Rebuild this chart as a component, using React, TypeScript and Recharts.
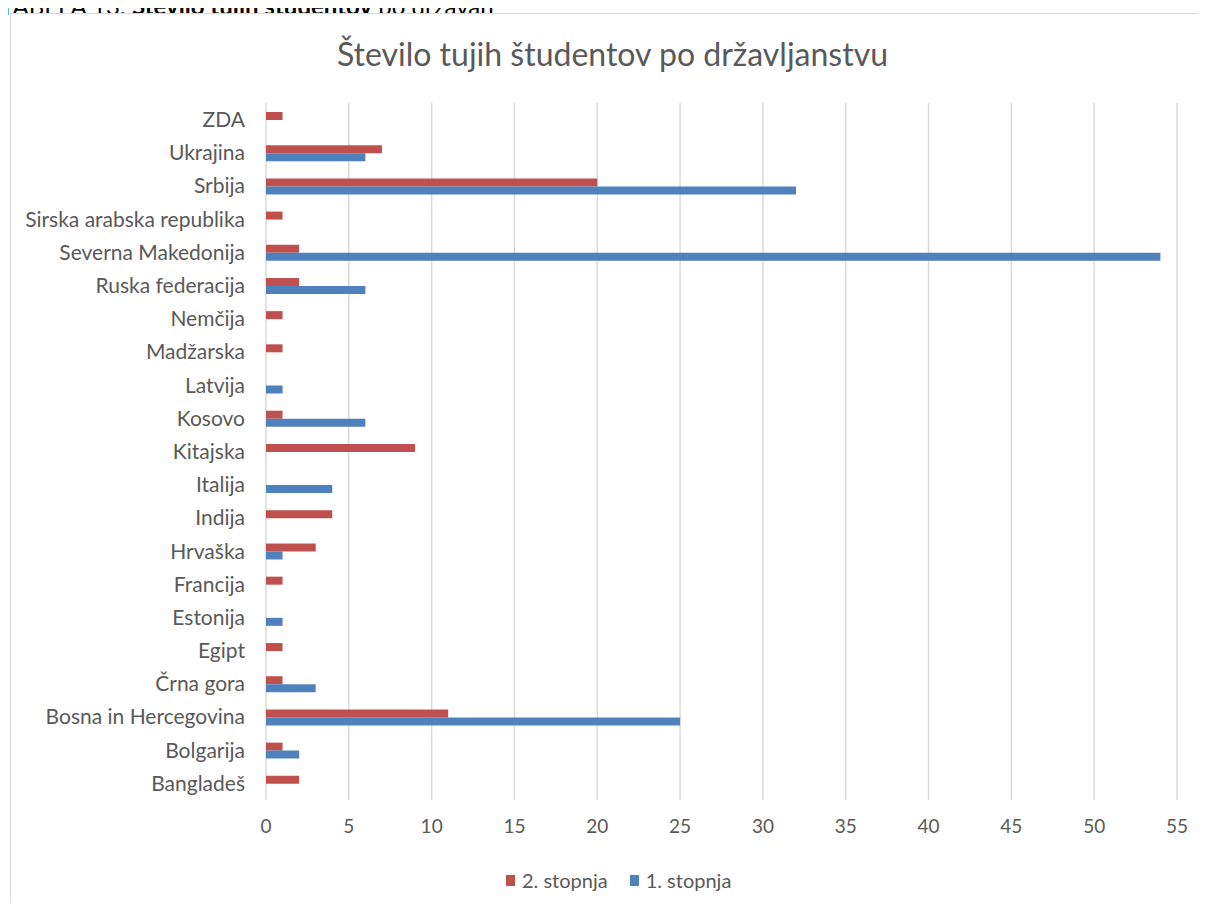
import React from 'react';
import { BarChart, Bar, XAxis, YAxis, CartesianGrid, Legend } from 'recharts';

const countries = [
  'ZDA', 'Ukrajina', 'Srbija', 'Sirska arabska republika', 'Severna Makedonija',
  'Ruska federacija', 'Nemčija', 'Madžarska', 'Latvija ', 'Kosovo', 'Kitajska',
  'Italija', 'Indija', 'Hrvaška', 'Francija', 'Estonija', 'Egipt', 'Črna gora',
  'Bosna in Hercegovina', 'Bolgarija', 'Bangladeš',
];
const secondCycle = [1, 7, 20, 1, 2, 2, 1, 1, null, 1, 9, null, 4, 3, 1, null, 1, 1, 11, 1, 2];
const firstCycle = [null, 6, 32, null, 54, 6, null, null, 1, 6, null, 4, null, 1, null, 1, null, 3, 25, 2, null];
const xTicks = [0, 5, 10, 15, 20, 25, 30, 35, 40, 45, 50, 55];

const RED = '#C0504D';
const BLUE = '#4F81BD';
const TEXT = '#595959';
const FONT = 'Lato, "Open Sans", sans-serif';

const data = countries.map((name, i) => ({
  name,
  second: secondCycle[i],
  first: firstCycle[i],
}));

const LegendContent = () => (
  <div style={{ display: 'flex', justifyContent: 'flex-start', paddingLeft: 496, fontFamily: FONT, fontSize: 20, color: TEXT }}>
    <span style={{ display: 'flex', alignItems: 'center', marginRight: 22 }}>
      <span style={{ width: 9, height: 11, background: RED, marginRight: 7, display: 'inline-block' }} />
      2. stopnja
    </span>
    <span style={{ display: 'flex', alignItems: 'center' }}>
      <span style={{ width: 9, height: 11, background: BLUE, marginRight: 7, display: 'inline-block' }} />
      1. stopnja
    </span>
  </div>
);

const App: React.FC = () => {
  return (
    <div style={{ position: 'relative', width: 1205, height: 911, margin: -8, overflow: 'hidden', background: '#fff', fontFamily: FONT }}>
      <div style={{ position: 'absolute', left: 0, top: -8, fontSize: 24, lineHeight: '28px', color: '#000', whiteSpace: 'nowrap' }}>
        TABELA 13: <b>Število tujih študentov</b> po državah
      </div>
      <div style={{ position: 'absolute', left: 10, top: 13, width: 1200, height: 910, border: '1px solid #d9d9d9', background: '#fff' }} />
      <div style={{ position: 'absolute', left: 0, top: 34, width: 1225, textAlign: 'center', fontSize: 32, color: TEXT }}>
        Število tujih študentov po državljanstvu
      </div>
      <div style={{ position: 'absolute', left: 10, top: 13 }}>
        <BarChart
          width={1195}
          height={898}
          data={data}
          layout="vertical"
          margin={{ top: 90, right: 28, left: 0, bottom: 17 }}
          barGap={0}
        >
          <CartesianGrid horizontal={false} stroke="#d9d9d9" strokeWidth={1.5} />
          <XAxis
            type="number"
            domain={[0, 55]}
            ticks={xTicks}
            axisLine={false}
            tickLine={false}
            tickSize={0}
            tickMargin={20}
            height={68}
            tick={{ fill: TEXT, fontSize: 19, fontFamily: FONT }}
          />
          <YAxis
            type="category"
            dataKey="name"
            width={256}
            axisLine={false}
            tickLine={false}
            tickSize={0}
            tickMargin={21}
            interval={0}
            tick={{ fill: TEXT, fontSize: 21, fontFamily: FONT }}
          />
          <Legend verticalAlign="bottom" height={26} content={LegendContent} />
          <Bar dataKey="second" name="2. stopnja" fill={RED} barSize={8} isAnimationActive={false} />
          <Bar dataKey="first" name="1. stopnja" fill={BLUE} barSize={8} isAnimationActive={false} />
        </BarChart>
      </div>
    </div>
  );
};

export default App;
